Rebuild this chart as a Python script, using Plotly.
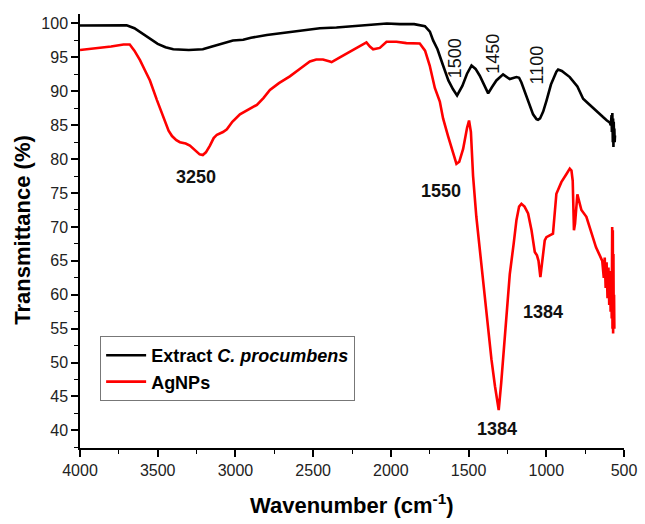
import plotly.graph_objects as go

# ---- data ----
extract_wn = [4000, 3900, 3800, 3700, 3650, 3600, 3550, 3500, 3450, 3400, 3300, 3210, 3150, 3100,
              3016, 2950, 2900, 2798, 2700, 2585, 2457, 2350, 2244, 2150, 2026, 1942, 1850, 1781,
              1749, 1728, 1700, 1664, 1630, 1600, 1574, 1540, 1510, 1481, 1455, 1428, 1400, 1374,
              1350, 1321, 1278, 1250, 1235, 1192, 1175, 1160, 1138, 1110, 1085, 1063, 1053, 1040,
              1020, 999, 970, 935, 924, 900, 849, 800, 785, 763, 730, 699, 665, 635, 610, 592,
              585, 580, 578, 575, 572, 570, 568, 566, 564, 562, 560, 558]
extract_t = [99.7, 99.75, 99.8, 99.75, 99.3, 98.5, 97.7, 97.0, 96.5, 96.2, 96.1, 96.2, 96.6, 96.9,
             97.5, 97.6, 97.9, 98.3, 98.6, 99.0, 99.3, 99.4, 99.6, 99.7, 100.0, 99.9, 99.9, 99.6,
             98.8, 97.5, 96.2, 93.8, 91.6, 90.3, 89.4, 90.8, 92.6, 93.8, 93.3, 92.3, 91.0, 89.7,
             90.6, 91.6, 92.5, 92.0, 91.8, 92.1, 92.0, 91.3, 89.9, 88.2, 86.6, 85.9, 85.8, 86.0,
             87.0, 88.6, 91.0, 92.9, 93.2, 93.0, 92.1, 90.7, 89.9, 88.9, 88.2, 87.5, 86.8, 86.2, 85.7, 85.4,
             85.0, 86.5, 84.0, 86.8, 82.5, 86.0, 81.8, 85.5, 83.0, 84.5, 82.5, 83.5]

agnp_wn = [4000, 3900, 3800, 3720, 3680, 3650, 3614, 3580, 3550, 3505, 3466, 3430, 3408, 3380,
           3357, 3320, 3293, 3260, 3230, 3210, 3190, 3164, 3140, 3119, 3080, 3055, 3020, 2971,
           2920, 2862, 2820, 2778, 2720, 2650, 2580, 2521, 2480, 2437, 2392, 2381, 2328, 2280,
           2243, 2200, 2157, 2135, 2114, 2071, 2028, 1964, 1900, 1814, 1780, 1750, 1717, 1685,
           1664, 1632, 1600, 1578, 1560, 1535, 1510, 1497, 1485, 1471, 1450, 1428, 1400, 1385,
           1353, 1330, 1306, 1290, 1267, 1250, 1235, 1210, 1192, 1175, 1160, 1140, 1117, 1095,
           1074, 1060, 1050, 1038, 1025, 1010, 999, 975, 957, 935, 903, 870, 849, 838, 830, 822,
           815, 800, 785, 774, 742, 720, 699, 680, 656, 640, 630, 624, 618, 612, 606, 600, 595,
           590, 586, 582, 579, 576, 574, 572, 570, 568, 566, 564, 562]
agnp_t = [96.1, 96.3, 96.6, 96.9, 96.9, 96.0, 94.6, 93.0, 91.6, 88.7, 86.2, 84.2, 83.4, 82.8,
          82.5, 82.3, 82.0, 81.3, 80.7, 80.6, 81.0, 82.0, 83.1, 83.6, 84.0, 84.4, 85.5, 86.6,
          87.3, 88.0, 89.0, 90.2, 91.2, 92.2, 93.4, 94.4, 94.7, 94.7, 94.4, 94.3, 95.0, 95.6,
          96.1, 96.6, 97.2, 96.6, 96.2, 96.4, 97.3, 97.3, 97.1, 97.05, 96.0, 93.8, 90.5, 88.5,
          86.0, 83.4, 80.8, 79.3, 79.6, 81.5, 84.6, 85.7, 84.0, 77.5, 71.5, 66.5, 60.5, 57.0,
          50.5, 46.5, 43.0, 47.0, 54.3, 59.0, 63.0, 67.5, 71.0, 73.0, 73.4, 73.0, 72.0, 69.5,
          66.3, 65.8, 65.0, 62.6, 65.5, 68.0, 68.5, 68.8, 69.0, 74.9, 76.6, 77.8, 78.6, 78.3, 76.8, 69.5,
          70.5, 74.8, 73.3, 72.5, 71.5, 70.0, 68.5, 67.0, 65.8, 65.0, 62.5, 65.5, 61.0, 64.8, 59.5, 64.0, 58.5,
          63.5, 57.5, 62.5, 56.5, 70.0, 55.0, 69.5, 54.3, 66.0, 55.5, 60.0, 55.0]

peak_labels = ["3250", "1550", "1384", "1384"]
peak_x = [3254, 1680, 1315, 1024]
peak_y = [77.3, 75.3, 40.25, 57.45]

rot_labels = ["1500", "1450", "1100"]
rot_x = [1583, 1340, 1058]
rot_y = [94.84, 95.6, 93.85]

FONT = "Liberation Sans"

fig = go.Figure()
fig.add_trace(go.Scatter(x=extract_wn, y=extract_t, mode="lines",
                         line=dict(color="#000000", width=2.6),
                         name="<b>Extract <i>C. procumbens</i></b>"))
fig.add_trace(go.Scatter(x=agnp_wn, y=agnp_t, mode="lines",
                         line=dict(color="#ff0000", width=2.6),
                         name="<b>AgNPs</b>"))

annotations = []
for t, x, y in zip(peak_labels, peak_x, peak_y):
    annotations.append(dict(x=x, y=y, xref="x", yref="y", text=f"<b>{t}</b>", showarrow=False,
                            font=dict(family=FONT, size=18, color="#111"),
                            xanchor="center", yanchor="middle"))
for t, x, y in zip(rot_labels, rot_x, rot_y):
    annotations.append(dict(x=x, y=y, xref="x", yref="y", text=t, showarrow=False, textangle=-90,
                            font=dict(family=FONT, size=18, color="#111"),
                            xanchor="center", yanchor="middle"))
annotations.append(dict(x=0.5, y=-0.13, xref="paper", yref="paper",
                        text="<b>Wavenumber (cm<sup>-1</sup>)</b>", showarrow=False,
                        font=dict(family=FONT, size=22, color="#000"),
                        xanchor="center", yanchor="middle"))
annotations.append(dict(x=-0.1056, y=0.502, xref="paper", yref="paper",
                        text="<b>Transmittance (%)</b>", showarrow=False, textangle=-90,
                        font=dict(family=FONT, size=22, color="#000"),
                        xanchor="center", yanchor="middle"))

fig.update_layout(
    width=645, height=524,
    margin=dict(l=80, r=21, t=14, b=76),
    paper_bgcolor="white", plot_bgcolor="white",
    font=dict(family=FONT, color="#222"),
    showlegend=True,
    legend=dict(x=0.037, y=0.258, xanchor="left", yanchor="top",
                bgcolor="white", bordercolor="#777", borderwidth=1,
                font=dict(family=FONT, size=18, color="#000"),
                tracegroupgap=0, itemwidth=40),
    annotations=annotations,
    xaxis=dict(range=[4000, 500], tickmode="array", automargin=False,
               tickvals=[4000, 3500, 3000, 2500, 2000, 1500, 1000, 500],
               ticks="outside", ticklen=7, tickwidth=1.5, tickcolor="#000",
               showline=True, linecolor="#000", linewidth=1.5, mirror=False,
               showgrid=False, zeroline=False,
               tickfont=dict(family=FONT, size=16, color="#222"),
               minor=dict(ticks="outside", ticklen=4, tickwidth=1.2, tickcolor="#000",
                          dtick=250, showgrid=False)),
    yaxis=dict(range=[37.4, 101.4], tick0=40, dtick=5, automargin=False,
               ticks="outside", ticklen=7, tickwidth=1.5, tickcolor="#000",
               showline=True, linecolor="#000", linewidth=1.5, mirror=False,
               showgrid=False, zeroline=False,
               tickfont=dict(family=FONT, size=16, color="#222"),
               minor=dict(ticks="outside", ticklen=4, tickwidth=1.2, tickcolor="#000",
                          dtick=2.5, showgrid=False)),
)

fig.write_html("out.html", config={"displayModeBar": False},
               post_script="document.body.style.margin='0px';")
